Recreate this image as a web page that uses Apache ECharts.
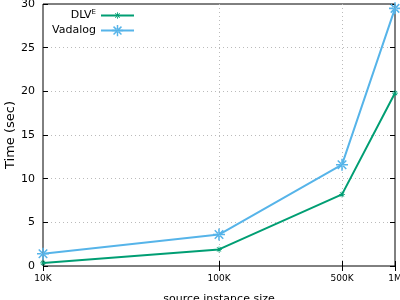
<!DOCTYPE html>
<html><head><meta charset="utf-8">
<script src="https://cdn.jsdelivr.net/npm/echarts@6/dist/echarts.min.js"></script>
<style>html,body{margin:0;padding:0;background:#fff}#c{width:400px;height:300px}</style>
</head><body><div id="c"></div>
<script>
var sizes = [10000, 100000, 500000, 1000000];
var sizeLabels = {10000:'10K', 100000:'100K', 500000:'500K', 1000000:'1M'};
var dlvE = [0.35, 1.9, 8.2, 19.8];
var vadalog = [1.4, 3.6, 11.6, 29.5];

var star = 'path://M-1.3,-10L1.3,-10L1.3,10L-1.3,10Z M-10,-1.3L10,-1.3L10,1.3L-10,1.3Z M-8,-6.2L6.2,8L8,6.2L-6.2,-8Z M-8,6.2L6.2,-8L8,-6.2L-6.2,8Z';
var font = 'DejaVu Sans';
var chart = echarts.init(document.getElementById('c'));
function pairs(v){ return sizes.map(function(s,i){return [s, v[i]];}); }
var grid = {color: '#bbb', type: [1, 3], width: 1};
chart.setOption({
  animation: false,
  grid: {left: 43, right: 5, top: 4, bottom: 34, show: true, borderColor: '#000', borderWidth: 1, containLabel: false, outerBoundsMode: 'none'},
  legend: [
    {data: [{name: 'DLVE'}], right: 260, top: 4, align: 'right', itemWidth: 33, itemHeight: 8,
     formatter: function(){return 'DLV{sup|E}';},
     textStyle: {fontFamily: font, fontSize: 11, color: '#000', rich: {sup: {fontSize: 7, verticalAlign: 'top', padding:[0,0,6,0], fontFamily: font, color:'#000'}}}},
    {data: [{name: 'Vadalog'}], right: 260, top: 20, align: 'right', itemWidth: 33, itemHeight: 14,
     textStyle: {fontFamily: font, fontSize: 11, color: '#000'}}
  ],
  xAxis: [{
    type: 'log', logBase: 10, min: 10000, max: 1000000,
    name: 'source instance size', nameLocation: 'middle', nameGap: 28, nameMoveOverlap: false,
    nameTextStyle: {fontFamily: font, fontSize: 11, color: '#000'},
    axisLine: {show: false},
    axisTick: {inside: true, length: 5, customValues: sizes, lineStyle: {color: '#000'}},
    axisLabel: {customValues: sizes, fontFamily: font, fontSize: 9, color: '#000', margin: 8,
      formatter: function(v){ return sizeLabels[Math.round(v)] || ''; }},
    splitLine: {show: true, showMinLine: false, showMaxLine: false, lineStyle: grid},
    minorTick: {show: false}
  },{
    type: 'log', logBase: 10, min: 10000, max: 1000000, position: 'top',
    axisLine: {show: false},
    axisTick: {inside: true, length: 5, customValues: sizes, lineStyle: {color: '#000'}},
    axisLabel: {show: false, customValues: sizes},
    splitLine: {show: false}
  }],
  yAxis: [{
    type: 'value', min: 0, max: 30, interval: 5,
    name: 'Time (sec)', nameLocation: 'middle', nameGap: 26, nameMoveOverlap: false,
    nameTextStyle: {fontFamily: font, fontSize: 13, color: '#000'},
    axisLine: {show: false},
    axisTick: {show: true, inside: true, length: 5, lineStyle: {color: '#000'}},
    axisLabel: {fontFamily: font, fontSize: 11, color: '#000', margin: 8},
    splitLine: {show: true, showMinLine: false, showMaxLine: false, lineStyle: grid}
  },{
    type: 'value', min: 0, max: 30, interval: 5, position: 'right',
    axisLine: {show: false},
    axisTick: {show: true, inside: true, length: 5, lineStyle: {color: '#000'}},
    axisLabel: {show: false},
    splitLine: {show: false}
  }],
  series: [
    {name: 'DLVE', type: 'line', data: pairs(dlvE), color: '#009e73',
     lineStyle: {width: 2}, symbol: star, symbolSize: 6, showAllSymbol: true,
     itemStyle: {color: '#009e73'}},
    {name: 'Vadalog', type: 'line', data: pairs(vadalog), color: '#56b4e9',
     lineStyle: {width: 2}, symbol: star, symbolSize: 12, showAllSymbol: true,
     itemStyle: {color: '#56b4e9'}}
  ]
});
</script></body></html>
